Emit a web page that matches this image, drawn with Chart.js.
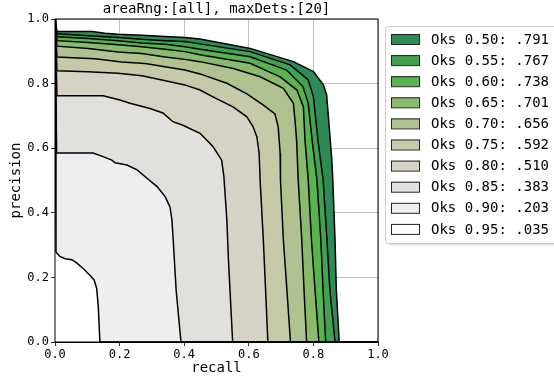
<!DOCTYPE html>
<html>
<head>
<meta charset="utf-8">
<script src="https://cdn.jsdelivr.net/npm/chart.js@4.4.0/dist/chart.umd.min.js"></script>
<style>
  html, body { margin: 0; padding: 0; background: #fff; }
  #wrap { width: 554px; height: 380px; position: relative; }
</style>
</head>
<body>
<div id="wrap"><canvas id="prChart"></canvas></div>
<script>
// OKS thresholds, AP per threshold and band colours (outermost first)
const thresholds = ['0.50', '0.55', '0.60', '0.65', '0.70', '0.75', '0.80', '0.85', '0.90', '0.95'];
const apValues = ['.791', '.767', '.738', '.701', '.656', '.592', '.510', '.383', '.203', '.035'];
const bandColors = ['#2e8a57', '#42a252', '#58b44c', '#8aba6c', '#afc290', '#c7caa9', '#d6d3c5', '#e1e0dc', '#eeedef', '#ffffff'];
const tickLabels = ['0.0', '0.2', '0.4', '0.6', '0.8', '1.0'];

// recall / precision points
const recall50 = [0, 0.006, 0.115, 0.155, 0.195, 0.269, 0.341, 0.402, 0.449, 0.604, 0.738, 0.800, 0.831, 0.841, 0.849, 0.857, 0.860, 0.867, 0.871, 0.880, 1.0];
const prec50   = [1.0, 0.961, 0.961, 0.956, 0.953, 0.950, 0.946, 0.943, 0.938, 0.909, 0.868, 0.837, 0.796, 0.765, 0.666, 0.563, 0.502, 0.316, 0.161, 0, 0];
const recall55 = [0, 0.006, 0.103, 0.196, 0.268, 0.341, 0.402, 0.449, 0.604, 0.728, 0.784, 0.800, 0.814, 0.830, 0.842, 0.851, 0.867, 1.0];
const prec55   = [1.0, 0.954, 0.948, 0.943, 0.937, 0.933, 0.930, 0.923, 0.899, 0.858, 0.811, 0.759, 0.625, 0.502, 0.316, 0.161, 0, 0];
const recall60 = [0, 0.006, 0.103, 0.196, 0.268, 0.341, 0.402, 0.449, 0.604, 0.717, 0.768, 0.784, 0.796, 0.811, 0.823, 0.830, 0.838, 1.0];
const prec60   = [1.0, 0.945, 0.940, 0.933, 0.926, 0.922, 0.914, 0.906, 0.883, 0.842, 0.790, 0.739, 0.625, 0.502, 0.316, 0.161, 0, 0];
const recall65 = [0, 0.006, 0.103, 0.196, 0.268, 0.341, 0.402, 0.449, 0.604, 0.697, 0.749, 0.769, 0.774, 0.784, 0.794, 0.805, 0.817, 1.0];
const prec65   = [1.0, 0.933, 0.927, 0.920, 0.914, 0.906, 0.899, 0.889, 0.863, 0.821, 0.780, 0.728, 0.625, 0.502, 0.316, 0.161, 0, 0];
const recall70 = [0, 0.006, 0.103, 0.196, 0.268, 0.341, 0.402, 0.449, 0.552, 0.635, 0.707, 0.738, 0.743, 0.748, 0.753, 0.764, 0.771, 0.779, 1.0];
const prec70   = [1.0, 0.916, 0.909, 0.898, 0.893, 0.882, 0.875, 0.868, 0.847, 0.821, 0.785, 0.739, 0.687, 0.625, 0.502, 0.316, 0.161, 0, 0];
const recall75 = [0, 0.006, 0.124, 0.206, 0.279, 0.402, 0.449, 0.532, 0.594, 0.644, 0.681, 0.691, 0.697, 0.698, 0.707, 0.718, 0.729, 1.0];
const prec75   = [1.0, 0.882, 0.877, 0.867, 0.862, 0.842, 0.830, 0.801, 0.768, 0.734, 0.706, 0.666, 0.585, 0.502, 0.316, 0.161, 0, 0];
const recall80 = [0, 0.006, 0.102, 0.195, 0.269, 0.331, 0.402, 0.449, 0.489, 0.551, 0.594, 0.613, 0.625, 0.632, 0.635, 0.645, 0.652, 0.659, 1.0];
const prec80   = [1.0, 0.840, 0.837, 0.832, 0.824, 0.811, 0.796, 0.780, 0.759, 0.728, 0.697, 0.667, 0.635, 0.585, 0.502, 0.316, 0.161, 0, 0];
const recall85 = [0, 0.006, 0.149, 0.201, 0.232, 0.294, 0.334, 0.365, 0.396, 0.449, 0.489, 0.516, 0.523, 0.532, 0.537, 0.550, 1.0];
const prec85   = [1.0, 0.762, 0.762, 0.749, 0.739, 0.723, 0.709, 0.682, 0.671, 0.646, 0.605, 0.563, 0.511, 0.378, 0.254, 0, 0];
const recall90 = [0, 0.005, 0.118, 0.149, 0.176, 0.186, 0.223, 0.254, 0.285, 0.316, 0.341, 0.356, 0.362, 0.366, 0.375, 0.390, 1.0];
const prec90   = [1.0, 0.585, 0.585, 0.574, 0.563, 0.555, 0.548, 0.533, 0.507, 0.481, 0.450, 0.418, 0.378, 0.316, 0.161, 0, 0];
const recall95 = [0, 0.003, 0.015, 0.031, 0.052, 0.067, 0.088, 0.108, 0.121, 0.129, 0.134, 0.139, 1.0];
const prec95   = [1.0, 0.279, 0.265, 0.258, 0.255, 0.245, 0.227, 0.207, 0.192, 0.166, 0.109, 0, 0];

const recalls = [recall50, recall55, recall60, recall65, recall70, recall75, recall80, recall85, recall90, recall95];
const precisions = [prec50, prec55, prec60, prec65, prec70, prec75, prec80, prec85, prec90, prec95];

const monoFont = "'DejaVu Sans Mono', monospace";

// innermost curve first so it is painted on top
const datasets = thresholds.map((t, i) => ({
    label: 'Oks ' + t + ': ' + apValues[i],
    data: recalls[i].map((r, k) => ({ x: r, y: precisions[i][k] })),
    borderColor: '#000',
    borderWidth: 1.5,
    backgroundColor: bandColors[i],
    fill: 'origin',
    pointRadius: 0,
    tension: 0
})).reverse();

// black frame around the axes (matplotlib spines)
const frame = {
    id: 'frame',
    afterDatasetsDraw(chart) {
        const {ctx, chartArea: a} = chart;
        ctx.save();
        ctx.strokeStyle = '#000';
        ctx.lineWidth = 1;
        ctx.strokeRect(a.left, a.top, a.right - a.left, a.bottom - a.top);
        ctx.restore();
    }
};

// legend box at the right, partly cut by the canvas edge
const oksLegend = {
    id: 'oksLegend',
    afterDraw(chart) {
        const ctx = chart.ctx;
        ctx.save();
        ctx.fillStyle = 'rgba(0,0,0,0.12)';
        ctx.beginPath();
        ctx.roundRect(387.5, 28.5, 180, 217, 3);
        ctx.fill();
        ctx.fillStyle = '#fff';
        ctx.strokeStyle = '#cccccc';
        ctx.lineWidth = 1;
        ctx.beginPath();
        ctx.roundRect(385.5, 26.5, 180, 217, 3);
        ctx.fill();
        ctx.stroke();
        ctx.font = '14px ' + monoFont;
        ctx.textBaseline = 'middle';
        thresholds.forEach((t, i) => {
            const y = 39 + i * 21.1;
            ctx.fillStyle = bandColors[i];
            ctx.fillRect(391, y - 5, 29, 10);
            ctx.strokeStyle = '#222';
            ctx.lineWidth = 1;
            ctx.strokeRect(391.5, y - 4.5, 28, 10);
            ctx.fillStyle = '#000';
            ctx.fillText('Oks ' + t + ': ' + apValues[i], 431, y + 1);
        });
        ctx.restore();
    }
};

const axisCommon = {
    type: 'linear',
    min: 0,
    max: 1,
    z: 1,
    grid: { color: '#b0b0b0', lineWidth: 0.8, tickColor: '#000', tickLength: 4 },
    border: { color: '#000', width: 1 },
    ticks: {
        stepSize: 0.2,
        color: '#000',
        padding: 2,
        font: { family: monoFont, size: 12 },
        callback: (v) => tickLabels[Math.round(v * 5)]
    }
};

new Chart(document.getElementById('prChart'), {
    type: 'line',
    data: { datasets: datasets },
    options: {
        responsive: true,
        maintainAspectRatio: false,
        animation: false,
        layout: { padding: { left: 0, right: 176, top: 0, bottom: 0 } },
        plugins: {
            legend: { display: false },
            tooltip: { enabled: false },
            title: {
                display: true,
                fullSize: false,
                text: 'areaRng:[all], maxDets:[20]',
                color: '#000',
                font: { family: monoFont, size: 14, weight: 'normal', lineHeight: 1.2 },
                padding: { top: 1, bottom: 1.2 }
            }
        },
        scales: {
            x: Object.assign({}, axisCommon, {
                title: { display: true, text: 'recall', color: '#000', font: { family: monoFont, size: 14 }, padding: { top: 0, bottom: 3 } },
                afterFit: (s) => { s.height = 38; }
            }),
            y: Object.assign({}, axisCommon, {
                title: { display: true, text: 'precision', color: '#000', font: { family: monoFont, size: 14 }, padding: { top: 8, bottom: 0 } },
                afterFit: (s) => { s.width = 55; }
            })
        }
    },
    plugins: [frame, oksLegend]
});
</script>
</body>
</html>
